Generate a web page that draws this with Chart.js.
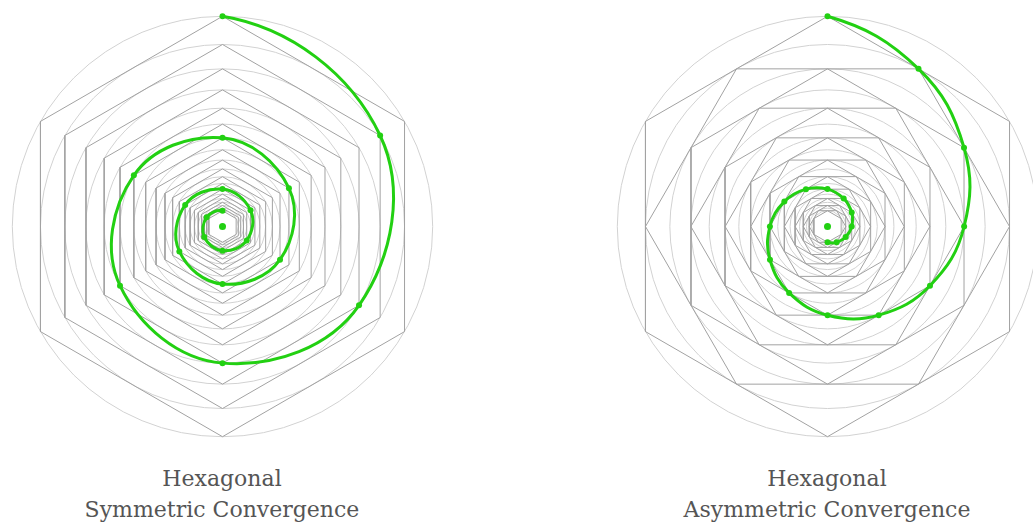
<!DOCTYPE html>
<html>
<head>
<meta charset="utf-8">
<script src="https://cdn.jsdelivr.net/npm/chart.js@4/dist/chart.umd.min.js"></script>
<style>
  body { margin: 0; background: #fff; width: 1033px; height: 522px; position: relative; overflow: hidden; }
  canvas { position: absolute; }
  .caption {
    position: absolute; width: 440px; text-align: center;
    font-family: "DejaVu Serif", serif; font-size: 22px; line-height: 31px; color: #555;
  }
</style>
</head>
<body>
<canvas id="sym" width="441" height="441" style="left:2px; top:6px"></canvas>
<canvas id="asym" width="441" height="441" style="left:607px; top:6px"></canvas>
<div class="caption" id="cap0" style="left:2px; top:463px"></div>
<div class="caption" id="cap1" style="left:607px; top:463px"></div>
<script>
// radius of each level, outer circle = 1
const radii = [1, 0.866, 0.75, 0.65, 0.563, 0.487, 0.422, 0.365, 0.316, 0.274,
               0.237, 0.205, 0.178, 0.154, 0.133, 0.115, 0.1, 0.087, 0.075];

// angle (deg) of the spiral point / hexagon vertex on each level
const symAngles  = [90, 30, 330, 270, 210, 150, 90, 30, 330, 270, 210, 150, 90, 30, 330, 270, 210, 150, 90];
const asymAngles = [90, 60, 30, 0, 330, 300, 270, 240, 210, 180, 150, 120, 90, 60, 30, 0, 330, 300, 270];

const captions = [
  ['Hexagonal', 'Symmetric Convergence'],
  ['Hexagonal', 'Asymmetric Convergence']
];

const green = '#22d012';
const hexColor = '#a2a2a2';
const circleColor = '#d2d2d2';

function polar(r, deg) {
  var a = deg * Math.PI / 180;
  return { x: r * Math.cos(a), y: r * Math.sin(a) };
}

function hexagon(r, rot) {
  var pts = [];
  for (var k = 0; k <= 6; k++) {
    pts.push(polar(r, rot + 60 * k));
  }
  return pts;
}

// mirror point c across the perpendicular bisector of a-b
function mirror(a, b, cx, cy) {
  var dx = b.x - a.x, dy = b.y - a.y;
  var len = Math.sqrt(dx * dx + dy * dy);
  var ux = dx / len, uy = dy / len;
  var mx = (a.x + b.x) / 2, my = (a.y + b.y) / 2;
  var d = (cx - mx) * ux + (cy - my) * uy;
  return { x: cx - 2 * d * ux, y: cy - 2 * d * uy };
}

// make the first and last spiral segments bend like the others
const arcEnds = {
  id: 'arcEnds',
  beforeDatasetDraw(chart, args) {
    if (args.index !== 0) return;
    var line = args.meta.dataset;
    var pts = args.meta.data;
    line.updateControlPoints(chart.chartArea, 'x');
    var n = pts.length;
    var c = mirror(pts[0], pts[1], pts[1].cp1x, pts[1].cp1y);
    pts[0].cp2x = c.x; pts[0].cp2y = c.y;
    c = mirror(pts[n - 2], pts[n - 1], pts[n - 2].cp2x, pts[n - 2].cp2y);
    pts[n - 1].cp1x = c.x; pts[n - 1].cp1y = c.y;
    line._path = undefined;
  }
};

function makeChart(id, angles) {
  var datasets = [];

  datasets.push({
    data: radii.map((r, i) => polar(r, angles[i])),
    showLine: true,
    tension: 0.4,
    borderColor: green,
    borderWidth: 3,
    pointRadius: 3,
    pointBorderWidth: 0,
    pointBackgroundColor: green,
    order: 0
  });

  datasets.push({
    data: [{ x: 0, y: 0 }],
    pointRadius: 3.5,
    pointBorderWidth: 0,
    pointBackgroundColor: green,
    order: 1
  });

  radii.forEach((r, i) => {
    datasets.push({
      data: hexagon(r, angles[i]),
      showLine: true,
      tension: 0,
      borderColor: hexColor,
      borderWidth: 1,
      pointRadius: 0,
      order: 2
    });
  });

  // circles through each hexagon's vertices, sized via the x scale
  datasets.push({
    data: radii.map(() => ({ x: 0, y: 0 })),
    pointRadius: function(ctx) {
      var s = ctx.chart.scales.x;
      return s.getPixelForValue(radii[ctx.dataIndex]) - s.getPixelForValue(0);
    },
    pointBorderColor: circleColor,
    pointBorderWidth: 1,
    pointBackgroundColor: 'rgba(0,0,0,0)',
    order: 3
  });

  return new Chart(document.getElementById(id), {
    type: 'scatter',
    data: { datasets: datasets },
    plugins: [arcEnds],
    options: {
      responsive: false,
      animation: false,
      events: [],
      layout: { padding: 0 },
      plugins: { legend: { display: false }, tooltip: { enabled: false } },
      scales: {
        x: { display: false, min: -1.03, max: 1.03 },
        y: { display: false, min: -1.03, max: 1.03 }
      }
    }
  });
}

makeChart('sym', symAngles);
makeChart('asym', asymAngles);

captions.forEach((lines, i) => {
  document.getElementById('cap' + i).innerHTML = lines.join('<br>');
});
</script>
</body>
</html>
